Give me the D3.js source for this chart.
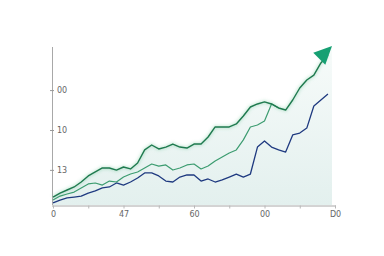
<!DOCTYPE html>
<html>
<head>
<meta charset="utf-8">
<script src="https://cdn.jsdelivr.net/npm/d3@7"></script>
<style>
  body { margin: 0; background: #fff; }
  svg { display: block; }
</style>
</head>
<body>
<svg id="chart"></svg>
<script>
// Values, one point every 0.2 x units
var topSeries = [8.0, 10.5, 12.4, 14.3, 17.4, 21.2, 23.7, 26.2, 26.2, 24.9,
    26.8, 25.6, 29.3, 37.5, 40.6, 38.1, 39.3, 41.2, 39.3, 38.7,
    41.2, 41.2, 45.6, 51.9, 51.9, 51.9, 53.8, 58.8, 64.4, 66.3,
    67.6, 66.3, 63.8, 62.5, 68.8, 76.3, 81.3, 84.4, 92.0, 97.0];
var midSeries = [6.1, 8.6, 9.9, 11.1, 13.7, 16.2, 16.8, 15.5, 18.0, 17.4,
    20.5, 22.4, 23.7, 26.2, 28.7, 27.4, 28.1, 24.9, 26.2, 28.1,
    28.7, 25.6, 27.4, 30.6, 33.1, 35.6, 37.5, 43.8, 51.9, 53.1,
    55.6, 66.3, 63.8];
var lowSeries = [4.3, 6.1, 7.4, 8.0, 8.6, 10.5, 11.8, 13.7, 14.3, 16.8,
    15.5, 17.4, 19.9, 23.1, 23.1, 21.2, 18.0, 17.4, 20.5, 21.8,
    21.8, 18.0, 19.3, 17.4, 18.7, 20.5, 22.4, 20.5, 22.4, 39.3,
    43.1, 39.3, 37.5, 36.2, 46.9, 48.1, 51.2, 65.0, 68.8, 72.6];

var xTickValues = [0, 2, 4, 6, 8];
var xTickLabels = ["0", "47", "60", "00", "D0"];
var yTickValues = [25, 50, 75];
var yTickLabels = ["13", "10", "00"];

var width = 384, height = 256;
var step = 0.2;

var svg = d3.select("#chart")
    .attr("width", width)
    .attr("height", height);

var x = d3.scaleLinear().domain([0, 8]).range([53, 335]);
var y = d3.scaleLinear().domain([3, 102]).range([205, 47]);

var defs = svg.append("defs");
var grad = defs.append("linearGradient")
    .attr("id", "fillGrad")
    .attr("x1", 0).attr("y1", 0).attr("x2", 0).attr("y2", 1);
grad.append("stop").attr("offset", "0%").attr("stop-color", "#f7fbfa");
grad.append("stop").attr("offset", "100%").attr("stop-color", "#e3f0ee");

defs.append("filter").attr("id", "glow")
    .append("feGaussianBlur").attr("stdDeviation", 1.4);

function toPoints(arr) {
    return arr.map(function(v, i) { return [i * step, v]; });
}

var line = d3.line()
    .x(function(d) { return x(d[0]); })
    .y(function(d) { return y(d[1]); });

var area = d3.area()
    .x(function(d) { return x(d[0]); })
    .y0(y(3))
    .y1(function(d) { return y(d[1]); });

// shaded area under the top line, stretched to the arrow tip
var areaPts = toPoints(topSeries);
areaPts.push([(x.invert(332)), y.invert(47)]);
svg.append("path")
    .datum(areaPts)
    .attr("d", area)
    .attr("fill", "url(#fillGrad)");

// axes
svg.append("line")
    .attr("x1", 52.5).attr("x2", 52.5)
    .attr("y1", 47).attr("y2", 205)
    .attr("stroke", "#a8a8a8").attr("stroke-width", 1);

var xAxis = svg.append("g")
    .attr("transform", "translate(0,205.5)")
    .call(d3.axisBottom(x)
        .tickValues(d3.range(0, 8.01, 1))
        .tickSize(3)
        .tickFormat(function(d) {
            var k = xTickValues.indexOf(d);
            return k >= 0 ? xTickLabels[k] : "";
        }));
xAxis.select(".domain").attr("stroke", "#a8a8a8").attr("d", "M52,0.5H336");
xAxis.selectAll(".tick line").attr("stroke", "#b8b8b8");
xAxis.selectAll(".tick text")
    .attr("fill", "#666")
    .attr("y", 6)
    .style("font-family", "DejaVu Sans, sans-serif")
    .style("font-size", "8px");

var yAxis = svg.append("g")
    .attr("transform", "translate(50,0)")
    .call(d3.axisRight(y)
        .tickValues(yTickValues)
        .tickSize(4)
        .tickFormat(function(d, i) { return yTickLabels[i]; }));
yAxis.select(".domain").remove();
yAxis.selectAll(".tick line").attr("stroke", "#999");
yAxis.selectAll(".tick text")
    .attr("fill", "#666")
    .attr("x", 7)
    .style("font-family", "DejaVu Sans, sans-serif")
    .style("font-size", "8px");

// soft glow under the top line
svg.append("path")
    .datum(toPoints(topSeries))
    .attr("d", line)
    .attr("fill", "none")
    .attr("stroke", "#5fbf8f")
    .attr("stroke-width", 3.5)
    .attr("stroke-opacity", 0.3)
    .attr("filter", "url(#glow)");

svg.append("path")
    .datum(toPoints(lowSeries))
    .attr("d", line)
    .attr("fill", "none")
    .attr("stroke", "#1f3a80")
    .attr("stroke-width", 1.3)
    .attr("stroke-linejoin", "round");

svg.append("path")
    .datum(toPoints(midSeries))
    .attr("d", line)
    .attr("fill", "none")
    .attr("stroke", "#3c9c70")
    .attr("stroke-width", 1.2)
    .attr("stroke-linejoin", "round");

svg.append("path")
    .datum(toPoints(topSeries))
    .attr("d", line)
    .attr("fill", "none")
    .attr("stroke", "#1f7a4f")
    .attr("stroke-width", 1.4)
    .attr("stroke-linejoin", "round");

// arrow head at the end of the top line, pointing up and to the right
var tipX = 332, tipY = 46;
var ang = -Math.PI / 4;
var len = 18, half = 8.5;
var bx = tipX - len * Math.cos(ang), by = tipY - len * Math.sin(ang);
svg.append("path")
    .attr("d", "M" + tipX + "," + tipY +
        "L" + (bx + half * Math.sin(ang)) + "," + (by - half * Math.cos(ang)) +
        "L" + (bx - half * Math.sin(ang)) + "," + (by + half * Math.cos(ang)) + "Z")
    .attr("fill", "#17a073");
</script>
</body>
</html>
